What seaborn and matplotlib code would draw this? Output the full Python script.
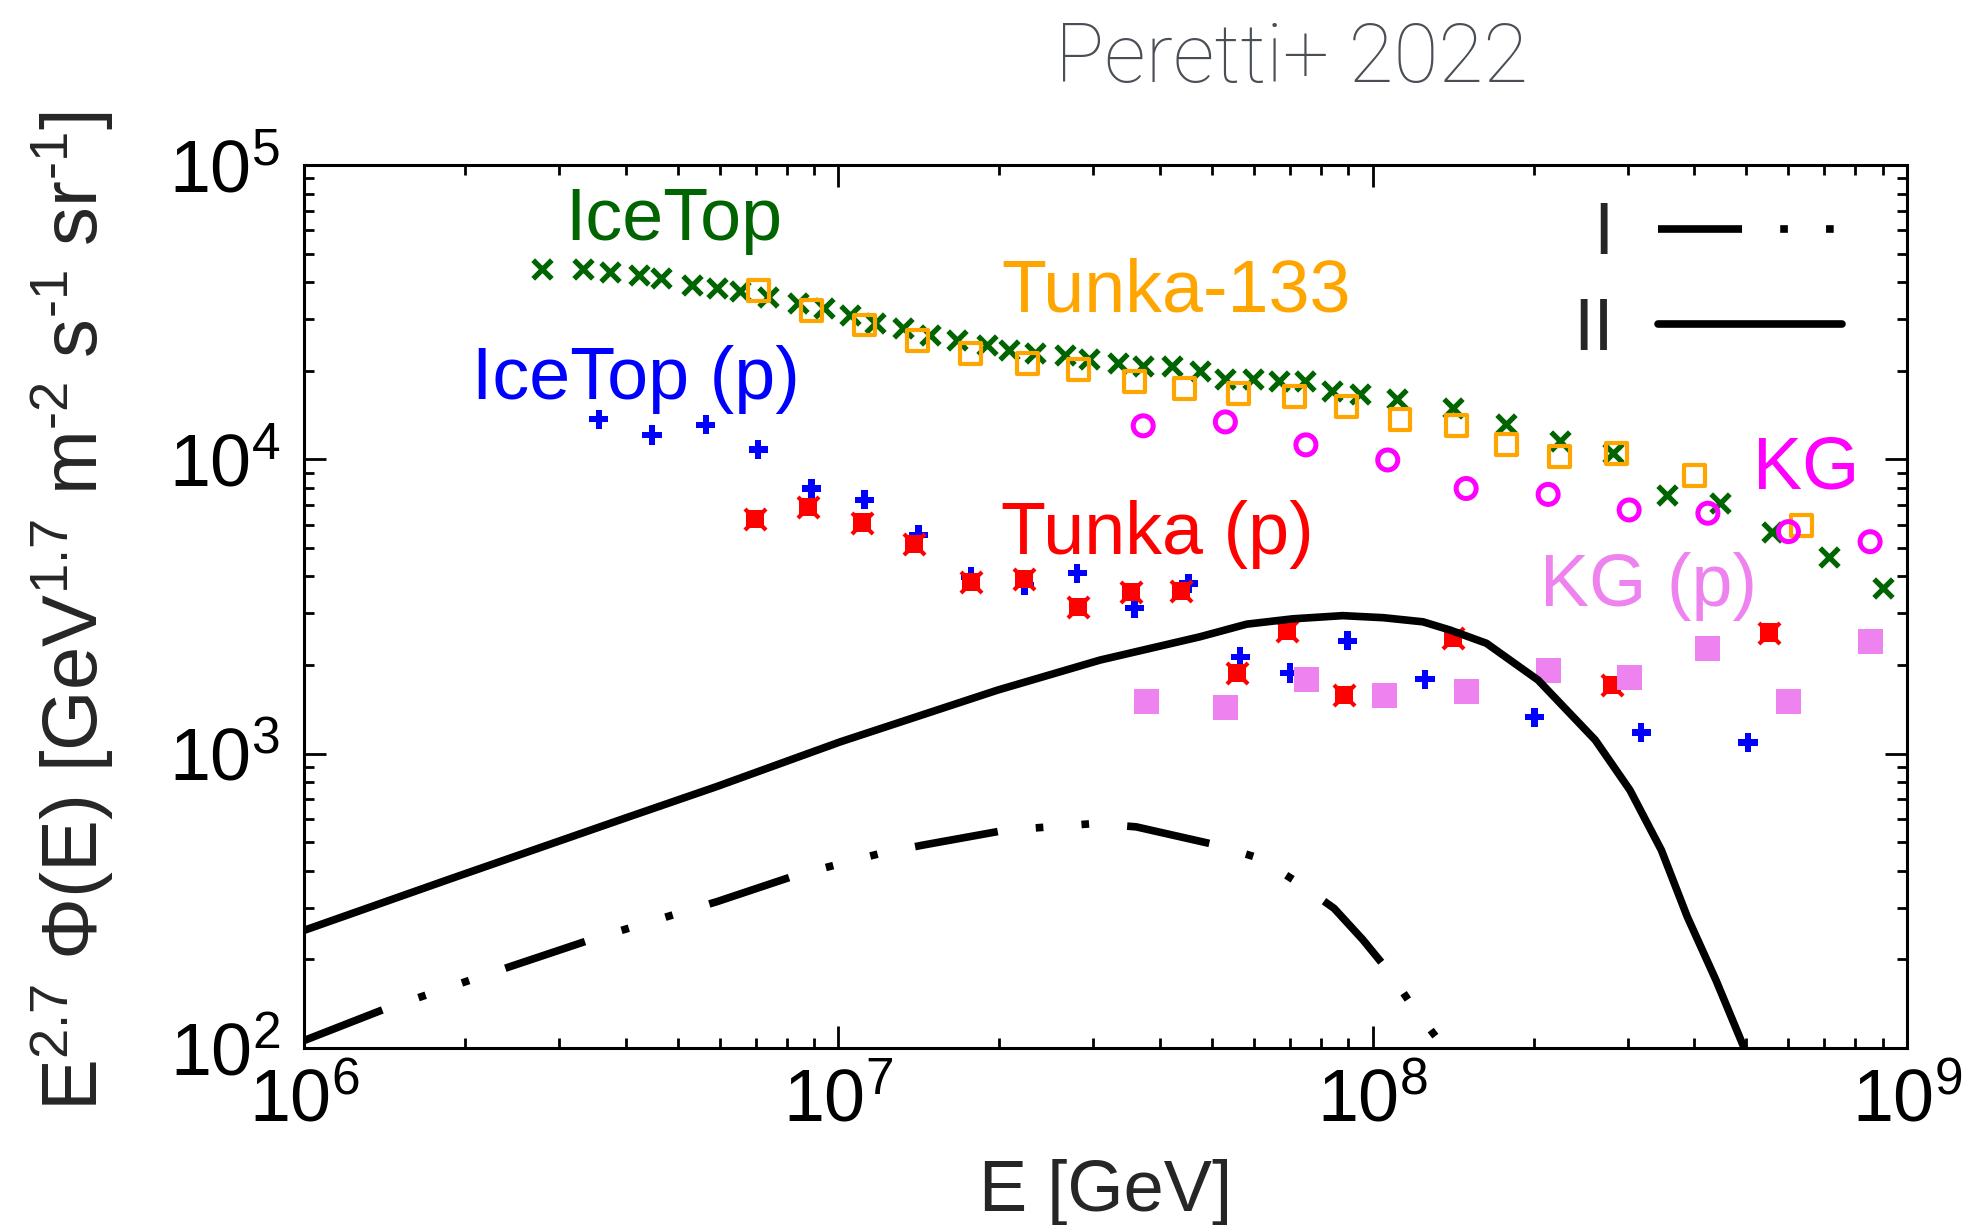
import numpy as np
import pandas as pd
import matplotlib
matplotlib.use("Agg")
import matplotlib.pyplot as plt
import seaborn as sns
from matplotlib.ticker import LogLocator, NullFormatter

# ---------------- data (E in GeV, E^2.7 flux) ----------------
icetop_E = [2.79e6, 3.33e6, 3.74e6, 4.23e6, 4.66e6, 5.33e6, 5.92e6, 6.55e6, 7.40e6, 8.41e6,
            9.38e6, 1.052e7, 1.172e7, 1.324e7, 1.486e7, 1.667e7, 1.897e7, 2.09e7, 2.33e7, 2.65e7,
            2.94e7, 3.34e7, 3.72e7, 4.21e7, 4.75e7, 5.30e7, 5.98e7, 6.67e7, 7.46e7, 8.38e7,
            9.46e7, 1.109e8, 1.416e8, 1.78e8, 2.24e8, 2.82e8, 3.55e8, 4.47e8, 5.58e8, 7.16e8, 9.02e8]
icetop_F = [4.43e4, 4.43e4, 4.32e4, 4.23e4, 4.12e4, 3.91e4, 3.81e4, 3.72e4, 3.57e4, 3.39e4,
            3.26e4, 3.09e4, 2.90e4, 2.79e4, 2.64e4, 2.54e4, 2.44e4, 2.35e4, 2.29e4, 2.26e4,
            2.19e4, 2.12e4, 2.07e4, 2.07e4, 1.99e4, 1.88e4, 1.88e4, 1.84e4, 1.84e4, 1.71e4,
            1.67e4, 1.60e4, 1.49e4, 1.32e4, 1.15e4, 1.05e4, 7.57e3, 7.08e3, 5.68e3, 4.67e3, 3.65e3]

tunka133_E = [7.08e6, 8.91e6, 1.119e7, 1.409e7, 1.770e7, 2.26e7, 2.81e7, 3.58e7, 4.45e7, 5.60e7,
              7.13e7, 8.93e7, 1.125e8, 1.436e8, 1.78e8, 2.24e8, 2.86e8, 4.00e8, 6.34e8]
tunka133_F = [3.74e4, 3.21e4, 2.86e4, 2.53e4, 2.29e4, 2.12e4, 2.02e4, 1.84e4, 1.74e4, 1.67e4,
              1.63e4, 1.51e4, 1.37e4, 1.30e4, 1.12e4, 1.02e4, 1.05e4, 8.79e3, 5.94e3]

icetop_p_E = [3.56e6, 4.48e6, 5.65e6, 7.08e6, 8.91e6, 1.119e7, 1.413e7, 1.770e7, 2.23e7, 2.80e7,
              3.58e7, 4.52e7, 5.65e7, 7.00e7, 8.97e7, 1.253e8, 2.01e8, 3.18e8, 5.04e8]
icetop_p_F = [1.37e4, 1.21e4, 1.31e4, 1.08e4, 7.96e3, 7.28e3, 5.53e3, 3.99e3, 3.74e3, 4.10e3,
              3.12e3, 3.79e3, 2.13e3, 1.88e3, 2.42e3, 1.79e3, 1.33e3, 1.18e3, 1.09e3]

tunka_p_E = [6.98e6, 8.79e6, 1.107e7, 1.387e7, 1.770e7, 2.23e7, 2.81e7, 3.53e7, 4.38e7, 5.58e7,
             6.92e7, 8.83e7, 1.416e8, 2.81e8, 5.52e8]
tunka_p_F = [6.25e3, 6.90e3, 6.10e3, 5.15e3, 3.84e3, 3.91e3, 3.14e3, 3.55e3, 3.57e3, 1.88e3,
             2.62e3, 1.58e3, 2.47e3, 1.71e3, 2.58e3]

kg_E = [3.72e7, 5.30e7, 7.50e7, 1.067e8, 1.496e8, 2.13e8, 3.02e8, 4.24e8, 6.00e8, 8.53e8]
kg_F = [1.30e4, 1.34e4, 1.12e4, 9.95e3, 7.96e3, 7.60e3, 6.73e3, 6.56e3, 5.68e3, 5.25e3]

kg_p_E = [3.78e7, 5.30e7, 7.53e7, 1.052e8, 1.496e8, 2.13e8, 3.02e8, 4.24e8, 6.00e8, 8.53e8]
kg_p_F = [1.50e3, 1.43e3, 1.79e3, 1.58e3, 1.62e3, 1.92e3, 1.82e3, 2.28e3, 1.50e3, 2.40e3]

model_I_E = [1.0e6, 1.406e6, 2.43e6, 3.43e6, 5.92e6, 8.36e6, 1.197e7, 1.439e7, 2.06e7, 3.02e7,
             3.61e7, 5.11e7, 6.14e7, 7.29e7, 8.47e7, 9.59e7, 1.072e8, 1.189e8, 1.340e8, 1.38e8]
model_I_F = [106, 135, 189, 233, 314, 387, 458, 489, 550, 579,
             564, 489, 441, 362, 298, 233, 182, 138, 104, 95]

model_II_E = [1.0e6, 1.89e6, 3.98e6, 5.92e6, 1.007e7, 1.986e7, 3.09e7, 4.75e7, 5.81e7, 7.08e7,
              8.79e7, 1.047e8, 1.242e8, 1.396e8, 1.633e8, 2.04e8, 2.61e8, 3.03e8, 3.47e8, 3.88e8,
              4.39e8, 5.01e8]
model_II_F = [251, 377, 603, 773, 1096, 1644, 2080, 2495, 2754, 2871,
              2944, 2897, 2805, 2630, 2371, 1778, 1112, 752, 470, 279,
              170, 95.5]

x_ticks = [1e6, 1e7, 1e8, 1e9]
y_ticks = [1e2, 1e3, 1e4, 1e5]

# ---------------- style ----------------
sns.set_theme(style="white")
plt.rcParams['font.family'] = ['Liberation Sans', 'DejaVu Sans']
plt.rcParams['mathtext.fontset'] = 'custom'
plt.rcParams['mathtext.rm'] = 'Liberation Sans'
plt.rcParams['mathtext.it'] = 'Liberation Sans:italic'
plt.rcParams['mathtext.bf'] = 'Liberation Sans:bold'
plt.rcParams['mathtext.sf'] = 'Liberation Sans'
plt.rcParams['axes.edgecolor'] = 'black'
plt.rcParams['xtick.color'] = 'black'
plt.rcParams['ytick.color'] = 'black'

fig = plt.figure(figsize=(19.68, 12.25), dpi=100)
ax = fig.add_axes([0.1545, 0.1445, 0.8145, 0.7208])
ax.set_xscale('log')
ax.set_yscale('log')

GREEN, ORANGE, BLUE, RED, MAGENTA, VIOLET = '#006400', '#FFA500', '#0000FF', '#FF0000', '#FF00FF', '#EE82EE'

sns.scatterplot(x=icetop_E, y=icetop_F, marker='x', s=180, color=GREEN, linewidth=3.8, ax=ax, zorder=3)
sns.scatterplot(x=tunka133_E, y=tunka133_F, marker='s', s=227, color=ORANGE, facecolor='none',
                edgecolor=ORANGE, linewidth=3.0, ax=ax, zorder=4)
sns.scatterplot(x=icetop_p_E, y=icetop_p_F, marker='P', s=190, color=BLUE, edgecolor='none',
                linewidth=0, ax=ax, zorder=4)
sns.scatterplot(x=tunka_p_E, y=tunka_p_F, marker='s', s=169, color=RED, edgecolor='none',
                linewidth=0, ax=ax, zorder=5)
sns.scatterplot(x=tunka_p_E, y=tunka_p_F, marker='x', s=230, color=RED, linewidth=3.0, ax=ax, zorder=5)
sns.scatterplot(x=kg_E, y=kg_F, marker='o', s=207, color=MAGENTA, facecolor='none',
                edgecolor=MAGENTA, linewidth=3.6, ax=ax, zorder=5)
sns.scatterplot(x=kg_p_E, y=kg_p_F, marker='s', s=324, color=VIOLET, edgecolor='none',
                linewidth=0, ax=ax, zorder=5)

sns.lineplot(x=model_I_E, y=model_I_F, color='black', linewidth=5.5, sort=False,
             estimator=None, ax=ax, zorder=6)
line_I = ax.lines[-1]
line_I.set_dashes([11, 5, 1, 5, 1, 5])
line_I.set_dash_capstyle('butt')
sns.lineplot(x=model_II_E, y=model_II_F, color='black', linewidth=5.5, sort=False,
             estimator=None, ax=ax, zorder=6)
line_II = ax.lines[-1]

ax.set_xlim(1e6, 1e9)
ax.set_ylim(1e2, 1e5)
ax.set_xticks(x_ticks)
ax.set_yticks(y_ticks)
ax.xaxis.set_minor_locator(LogLocator(base=10, subs=np.arange(2, 10), numticks=100))
ax.yaxis.set_minor_locator(LogLocator(base=10, subs=np.arange(2, 10), numticks=100))
ax.xaxis.set_minor_formatter(NullFormatter())
ax.yaxis.set_minor_formatter(NullFormatter())
ax.tick_params(which='both', direction='in', top=True, right=True, bottom=True, left=True,
               color='black')
ax.tick_params(which='major', length=16, width=2.0, labelsize=53)
ax.tick_params(which='minor', length=7.5, width=2.0)
ax.tick_params(axis='x', which='major', pad=14)
ax.tick_params(axis='y', which='major', pad=17)
for sp in ax.spines.values():
    sp.set_linewidth(2.2)
    sp.set_color('black')
ax.set_xlabel('')
ax.set_ylabel('')

# legend: label before line sample
ax.legend(handles=[line_I, line_II], labels=['I', 'II'], markerfirst=False, frameon=False,
          loc='upper right', bbox_to_anchor=(0.9594, 0.960), borderaxespad=0, borderpad=0,
          fontsize=53, handlelength=2.5, handletextpad=0.6, labelspacing=0.36)

# series labels
ax.text(0.163, 0.915, 'IceTop', color=GREEN, fontsize=53, transform=ax.transAxes, va='baseline')
ax.text(0.435, 0.834, 'Tunka-133', color=ORANGE, fontsize=53, transform=ax.transAxes, va='baseline')
ax.text(0.105, 0.735, 'IceTop (p)', color=BLUE, fontsize=53, transform=ax.transAxes, va='baseline')
ax.text(0.435, 0.559, 'Tunka (p)', color=RED, fontsize=53, transform=ax.transAxes, va='baseline')
ax.text(0.904, 0.634, 'KG', color=MAGENTA, fontsize=53, transform=ax.transAxes, va='baseline')
ax.text(0.771, 0.501, 'KG (p)', color=VIOLET, fontsize=53, transform=ax.transAxes, va='baseline')

# axis labels
fig.text(0.562, 0.0114, 'E [GeV]', ha='center', va='baseline', fontsize=52)
fig.text(0.037, 0.5010,
         r'E$^{2.7}$ Φ(E) [GeV$^{1.7}$ m$^{\text{-}2}$ s$^{\text{-}1}$ sr$^{\text{-}1}$]',
         rotation=90, ha='center', va='center', fontsize=56)

# title
fig.text(0.6565, 0.9334, 'Peretti+ 2022', ha='center', va='baseline', fontsize=59,
         color='#4a4f56', family=['Roboto', 'DejaVu Sans'], fontweight='light')

fig.savefig('out.png', dpi=100)
